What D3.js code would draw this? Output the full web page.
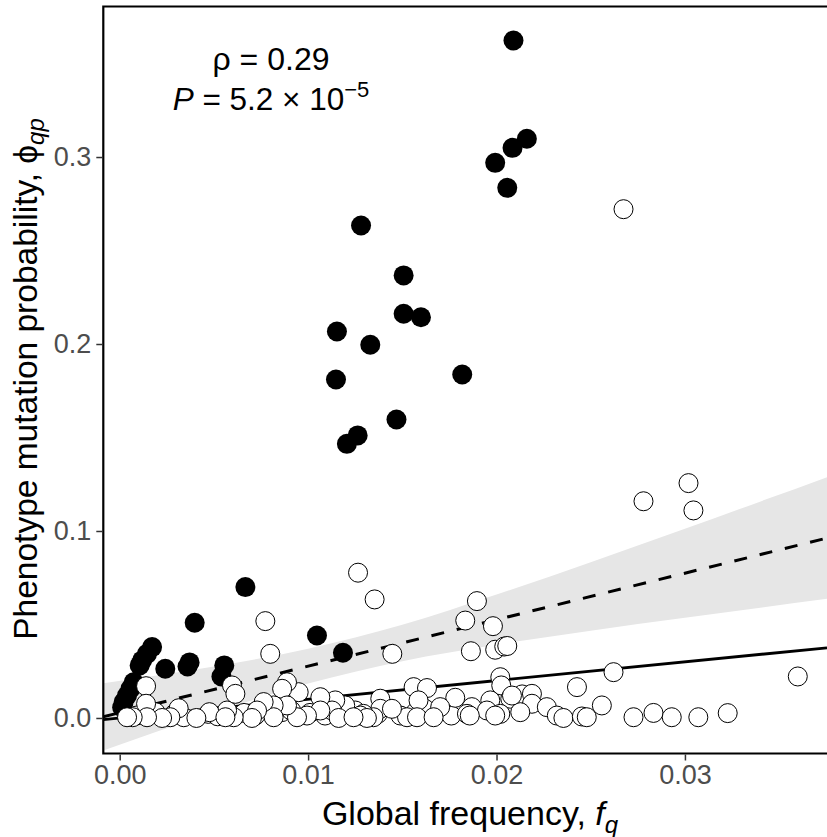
<!DOCTYPE html>
<html>
<head>
<meta charset="utf-8">
<script src="https://cdn.jsdelivr.net/npm/d3@7"></script>
<style>
  body { margin: 0; background: #fff; }
  svg { display: block; font-family: "Liberation Sans", Arial, Helvetica, sans-serif; }
</style>
</head>
<body>
<svg id="chart" width="827" height="837"></svg>
<script>

const xTicks = [0, 0.01, 0.02, 0.03];
const yTicks = [0, 0.1, 0.2, 0.3];

// filled points
const blackX = [0.02090, 0.02161, 0.02085, 0.01993, 0.02057, 0.01281, 0.01507, 0.01507, 0.01599, 0.01153,
                0.01330, 0.01148, 0.01818, 0.01469, 0.01263, 0.01206, 0.00667, 0.00398, 0.01047, 0.01185,
                0.00242, 0.00371, 0.00360, 0.00555, 0.00540, 0.00172, 0.00145, 0.00119, 0.00106, 0.00074,
                0.00057, 0.00039, 0.00021, 0.00013];
const blackY = [0.3623, 0.3098, 0.3049, 0.2969, 0.2835, 0.2634, 0.2367, 0.2162, 0.2143, 0.2067,
                0.1996, 0.1810, 0.1837, 0.1596, 0.1511, 0.1466, 0.0700, 0.0509, 0.0441, 0.0349,
                0.0263, 0.0297, 0.0275, 0.0281, 0.0222, 0.0379, 0.0343, 0.0308, 0.0281, 0.0191,
                0.0156, 0.0120, 0.0085, 0.0056];

// open points
const whiteX = [0.00090, 0.00190, 0.00290, 0.00340, 0.00470, 0.00520, 0.00660, 0.00720, 0.00860, 0.00910,
                0.01010, 0.01090, 0.01250, 0.01370, 0.01490, 0.01570, 0.01620, 0.01760,
                0.02674, 0.03019, 0.02780, 0.03045, 0.01265, 0.01353, 0.00773, 0.00799, 0.01447, 0.01896,
                0.01834, 0.01981, 0.01864, 0.01993, 0.02041, 0.02057, 0.02621, 0.03599, 0.02020, 0.02025,
                0.02427, 0.02559, 0.01560, 0.01631, 0.01586, 0.01781, 0.01701, 0.01869, 0.01967, 0.02073,
                0.02136, 0.02188, 0.02188, 0.02267, 0.02126, 0.02320, 0.02355, 0.02453, 0.02479, 0.02727,
                0.02833, 0.02930, 0.03071, 0.03227, 0.02020, 0.02082, 0.01843, 0.01949, 0.01993, 0.01858,
                0.01525, 0.01578, 0.01666, 0.01383, 0.01383, 0.01445, 0.01347, 0.01294, 0.01277, 0.01312,
                0.01197, 0.01144, 0.01127, 0.01162, 0.01065, 0.01065, 0.00994, 0.00941, 0.00950, 0.00888,
                0.00862, 0.00888, 0.00817, 0.00817, 0.00764, 0.00729, 0.00702, 0.00605, 0.00570, 0.00596,
                0.00614, 0.00476, 0.00407, 0.00313, 0.00269, 0.00225, 0.00140, 0.00140, 0.00145, 0.00069,
                0.00039, 0.00561, 0.01241];
const whiteY = [0.0013, 0.0031, 0.0022, 0.0004, 0.0022, 0.0009, 0.0027, 0.0013, 0.0031, 0.0040,
                0.0027, 0.0013, 0.0040, 0.0022, 0.0013, 0.0031, 0.0049, 0.0013,
                0.2721, 0.1256, 0.1159, 0.1110, 0.0777, 0.0634, 0.0518, 0.0343, 0.0343, 0.0625,
                0.0521, 0.0491, 0.0357, 0.0365, 0.0382, 0.0385, 0.0245, 0.0222, 0.0218, 0.0174,
                0.0165, 0.0067, 0.0165, 0.0160, 0.0094, 0.0108, 0.0058, 0.0058, 0.0094, 0.0103,
                0.0126, 0.0129, 0.0076, 0.0058, 0.0031, 0.0013, 0.0000, 0.0008, 0.0004, 0.0004,
                0.0027, 0.0004, 0.0004, 0.0026, 0.0022, 0.0120, 0.0022, 0.0040, 0.0013, 0.0013,
                0.0004, 0.0004, 0.0004, 0.0103, 0.0049, 0.0049, 0.0004, 0.0022, 0.0013, 0.0000,
                0.0067, 0.0094, 0.0040, 0.0000, 0.0111, 0.0040, 0.0013, 0.0004, 0.0138, 0.0191,
                0.0156, 0.0067, 0.0067, 0.0004, 0.0085, 0.0040, 0.0000, 0.0004, 0.0040, 0.0174,
                0.0129, 0.0031, 0.0000, 0.0052, 0.0004, 0.0000, 0.0170, 0.0076, 0.0004, 0.0004,
                0.0004, 0.0004, 0.0004];

// regression fit (dashed) and its confidence band
const fitX = [-0.00087, 0.03754];
const fitY = [0.00064, 0.0962];
const bandX  = [-0.00087, 0.005, 0.01, 0.015, 0.02, 0.025, 0.03, 0.03754];
const bandLo = [-0.0174, 0.0029, 0.0184, 0.0304, 0.0392, 0.0467, 0.0536, 0.0637];
const bandHi = [0.0186, 0.0275, 0.0370, 0.0498, 0.0660, 0.0833, 0.1012, 0.1288];

// y = x reference line
const refX = [-0.00087, 0.03754];
const refY = [-0.00087, 0.03754];

const svg = d3.select('#chart');
const padLeft = 103.3, padRight = 827, padTop = 6.5, padBottom = 753.5;
const font = '"Liberation Sans", Arial, Helvetica, sans-serif';

let x = d3.scaleLinear().domain([-0.00087, 0.03754]).range([padLeft, padRight]);
let y = d3.scaleLinear().domain([-0.019, 0.3805]).range([padBottom, padTop]);

svg.append("clipPath").attr("id", "panel")
    .append("rect")
    .attr("x", padLeft).attr("y", padTop)
    .attr("width", padRight - padLeft + 5).attr("height", padBottom - padTop);

let panel = svg.append("g").attr("clip-path", "url(#panel)");

let band = bandX.map((d, i) => ({x: d, lo: bandLo[i], hi: bandHi[i]}));
panel.append("path")
    .datum(band)
    .attr("fill", "#e6e6e6")
    .attr("d", d3.area()
        .curve(d3.curveMonotoneX)
        .x(d => x(d.x))
        .y0(d => y(d.lo))
        .y1(d => y(d.hi)));

let line = d3.line().x(d => x(d[0])).y(d => y(d[1]));

panel.append("path")
    .datum(fitX.map((d, i) => [d, fitY[i]]))
    .attr("fill", "none")
    .attr("stroke", "#000")
    .attr("stroke-width", 3)
    .attr("stroke-dasharray", "13,13")
    .attr("d", line);

panel.append("path")
    .datum(refX.map((d, i) => [d, refY[i]]))
    .attr("fill", "none")
    .attr("stroke", "#000")
    .attr("stroke-width", 2.8)
    .attr("d", line);

panel.selectAll("circle.filled")
    .data(blackX.map((d, i) => [d, blackY[i]]))
    .enter()
    .append("circle")
    .attr("class", "filled")
    .attr("cx", d => x(d[0]))
    .attr("cy", d => y(d[1]))
    .attr("r", 10)
    .attr("fill", "#000");

panel.selectAll("circle.open")
    .data(whiteX.map((d, i) => [d, whiteY[i]]))
    .enter()
    .append("circle")
    .attr("class", "open")
    .attr("cx", d => x(d[0]))
    .attr("cy", d => y(d[1]))
    .attr("r", 9.5)
    .attr("fill", "#fff")
    .attr("stroke", "#000")
    .attr("stroke-width", 1);

// panel border (right side runs off the picture)
svg.append("path")
    .attr("fill", "none")
    .attr("stroke", "#000")
    .attr("stroke-width", 2.2)
    .attr("d", `M${padRight + 5},${padTop}H${padLeft}V${padBottom}H${padRight + 5}`);

let xAxis = d3.axisBottom(x).tickValues(xTicks).tickFormat(d3.format(".2f")).tickSize(6).tickPadding(4);
let yAxis = d3.axisLeft(y).tickValues(yTicks).tickFormat(d3.format(".1f")).tickSize(6).tickPadding(5);

let gx = svg.append("g").attr("transform", `translate(0,${padBottom + 1})`).call(xAxis);
let gy = svg.append("g").attr("transform", `translate(${padLeft - 1},0)`).call(yAxis);

[gx, gy].forEach(g => {
    g.select(".domain").remove();
    g.selectAll(".tick line").attr("stroke", "#333").attr("stroke-width", 1.5);
    g.selectAll(".tick text")
        .attr("fill", "#4d4d4d")
        .style("font-size", "27px")
        .style("font-family", font);
});

// axis titles
svg.append("text")
    .attr("x", 470).attr("y", 825)
    .attr("text-anchor", "middle")
    .style("font-size", "34px")
    .call(t => {
        t.append("tspan").text("Global frequency, ");
        t.append("tspan").attr("font-style", "italic").text("f");
        t.append("tspan").attr("font-style", "italic").attr("font-size", "24px").attr("dy", 8).text("q");
    });

svg.append("text")
    .attr("transform", "translate(37,379) rotate(-90)")
    .attr("text-anchor", "middle")
    .style("font-size", "33.5px")
    .call(t => {
        t.append("tspan").text("Phenotype mutation probability, \u03d5");
        t.append("tspan").attr("font-style", "italic").attr("font-size", "24px").attr("dy", 7).text("qp");
    });

// correlation annotation
svg.append("text")
    .attr("x", 271).attr("y", 70)
    .attr("text-anchor", "middle")
    .style("font-size", "32px")
    .text("\u03c1 = 0.29");

svg.append("text")
    .attr("x", 271).attr("y", 110)
    .attr("text-anchor", "middle")
    .style("font-size", "31.5px")
    .call(t => {
        t.append("tspan").attr("font-style", "italic").text("P");
        t.append("tspan").text(" = 5.2 \u00d7 10");
        t.append("tspan").attr("font-size", "22px").attr("dy", -13).text("\u22125");
    });

</script>
</body>
</html>
